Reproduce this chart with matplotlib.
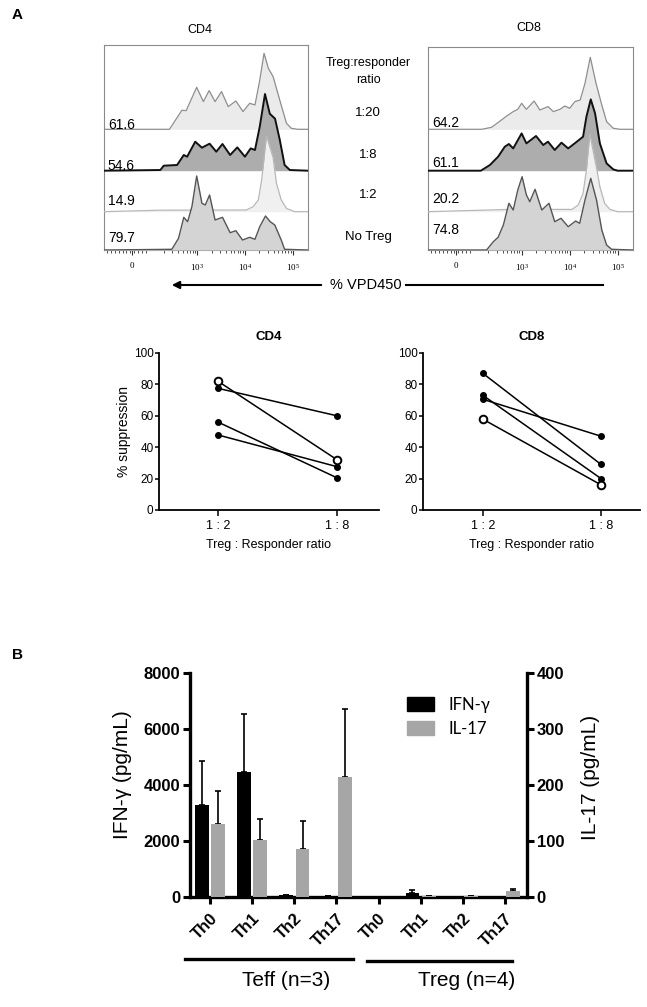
import numpy as np
import matplotlib
matplotlib.use("Agg")
import matplotlib.pyplot as plt
from matplotlib.lines import Line2D
from matplotlib.patches import Patch

plt.rcParams['font.family'] = ['Liberation Sans', 'DejaVu Sans']

# ---- panel A, flow histograms (x = log10 of VPD450 intensity, y = counts) ----
ratio_rows = ["1:20", "1:8", "1:2", "No Treg"]

cd4_pct = ["61.6", "54.6", "14.9", "79.7"]
cd4_r20_x = [2.42, 2.68, 2.77, 2.99, 3.13, 3.25, 3.375, 3.51, 3.65, 3.81, 3.96, 4.10, 4.21, 4.31, 4.40, 4.49, 4.59, 4.73, 4.87, 4.97, 5.10]
cd4_r20_y = [0, 19, 18.7, 42, 27.7, 38.7, 27.7, 37.7, 22.7, 28.3, 17.7, 26, 24.3, 49, 76, 61, 52.7, 29, 6, 1, 0]
cd4_r8_x = [2.23, 2.30, 2.58, 2.72, 2.79, 2.96, 3.10, 3.26, 3.40, 3.53, 3.69, 3.84, 4.0, 4.12, 4.21, 4.31, 4.42, 4.52, 4.63, 4.73, 4.83, 4.94]
cd4_r8_y = [0.7, 5, 5.7, 15.7, 14, 29, 23, 27, 19, 26.7, 15.7, 23.3, 14, 22.3, 20.7, 44, 76.7, 57, 52, 30.7, 5.7, 0.7]
cd4_r2_x = [2.23, 4.03, 4.17, 4.28, 4.35, 4.45, 4.59, 4.66, 4.76, 4.87, 5.04]
cd4_r2_y = [1.5, 1.7, 5, 11.7, 31.7, 76, 54, 28.3, 11.7, 3.3, 0]
cd4_none_x = [2.47, 2.61, 2.72, 2.80, 2.89, 2.99, 3.10, 3.17, 3.26, 3.375, 3.53, 3.69, 3.81, 3.95, 4.10, 4.21, 4.31, 4.43, 4.53, 4.625, 4.76, 4.83]
cd4_none_y = [0.7, 11.7, 32.7, 28.3, 43.3, 74, 46.7, 45, 55, 30, 32.7, 17.3, 19.3, 10, 12.7, 10.7, 23.3, 34, 28.3, 25, 10, 0.7]

cd8_pct = ["64.2", "61.1", "20.2", "74.8"]
cd8_r20_x = [2.17, 2.375, 2.58, 2.69, 2.825, 2.92, 3.0, 3.10, 3.26, 3.38, 3.55, 3.66, 3.80, 3.90, 4.0, 4.11, 4.22, 4.32, 4.43, 4.55, 4.67, 4.77, 4.91, 5.05]
cd8_r20_y = [0, 2, 9.3, 13.3, 17.7, 20, 26, 20, 28.3, 19.3, 22.7, 17.7, 20, 23.3, 21, 27.7, 29.3, 46, 72, 46, 24.3, 7.7, 1, 0]
cd8_r8_x = [2.15, 2.34, 2.51, 2.65, 2.735, 2.825, 3.0, 3.10, 3.30, 3.45, 3.55, 3.69, 3.83, 3.97, 4.15, 4.28, 4.35, 4.44, 4.53, 4.63, 4.77, 4.91, 5.0]
cd8_r8_y = [0, 5.7, 14, 24, 26.7, 22.3, 37.3, 27.3, 34.7, 25.7, 29, 20.7, 28, 22.3, 29, 34, 54, 71.3, 57.3, 27.3, 7.3, 1.3, 0]
cd8_r2_x = [2.76, 4.05, 4.18, 4.28, 4.35, 4.42, 4.56, 4.63, 4.73, 4.84, 5.0]
cd8_r2_y = [2.3, 2.3, 6.7, 18.3, 41.7, 77.7, 44, 25, 8.3, 2.3, 0]
cd8_none_x = [2.27, 2.41, 2.51, 2.62, 2.735, 2.825, 2.92, 3.01, 3.10, 3.17, 3.28, 3.42, 3.57, 3.69, 3.82, 3.97, 4.125, 4.21, 4.32, 4.44, 4.56, 4.67, 4.77, 4.875]
cd8_none_y = [0, 8.3, 12.7, 25, 46.7, 40, 60, 73.3, 55, 48.3, 60.7, 40, 46.7, 28.3, 31.7, 23.3, 29, 26.7, 50, 71.7, 50, 20, 5, 0.7]

# ---- panel A, % suppression ----
pair_cats = ["1 : 2", "1 : 8"]
cd4_at_1_2 = [82, 77.5, 56, 47.8]
cd4_at_1_8 = [32, 60, 20.5, 27.6]
cd4_open = [True, False, False, False]
cd8_at_1_2 = [87, 73, 70.5, 57.8]
cd8_at_1_8 = [29, 20, 47, 16]
cd8_open = [False, False, False, True]

# ---- panel B, cytokines ----
b_groups = ["Th0", "Th1", "Th2", "Th17", "Th0", "Th1", "Th2", "Th17"]
ifn_mean = [3280, 4450, 60, 30, 15, 155, 10, 5]
ifn_err = [1570, 2070, 0, 0, 0, 110, 0, 0]
il17_mean = [131, 101, 86, 215, 0.5, 1, 1.5, 10]
il17_err = [58, 38, 49, 121, 0, 0, 1, 5]

W, H = 647, 1007
fig = plt.figure(figsize=(W / 100, H / 100), dpi=100)


def box(l, t, r, b):
    return [l / W, 1 - b / H, (r - l) / W, (b - t) / H]


def ftext(x, y, s, **kw):
    fig.text(x / W, 1 - y / H, s, **kw)


# ---------------- histograms ----------------
hist_lo, hist_hi = 1.05, 5.32
row_fill = ["#ebebeb", "#adadad", "#f0f0f0", "#d4d4d4"]
row_line = ["#8e8e8e", "#111111", "#b8b8b8", "#555555"]
row_lw = [0.9, 1.4, 0.9, 1.0]
minor = list(np.linspace(1.12, 1.92, 11)) + [np.log10(k * 10 ** d) for d in (2, 3, 4) for k in range(2, 10)]


def draw_hist(ax, curves, offsets, top, pct, pct_y):
    for i, ((xs, ys), off) in enumerate(zip(curves, offsets)):
        x = np.r_[hist_lo, xs, hist_hi]
        y = np.r_[0, ys, 0] + off
        ax.fill_between(x, off, y, color=row_fill[i], lw=0, zorder=2 + 2 * i)
        ax.plot(x, y, color=row_line[i], lw=row_lw[i], zorder=3 + 2 * i)
        ax.text(hist_lo + 0.08, pct_y[i], pct[i], fontsize=10, va="center", ha="left", zorder=20)
    ax.set_xlim(hist_lo, hist_hi)
    ax.set_ylim(0, top)
    ax.set_yticks([])
    ax.set_xticks([1.63, 3, 4, 5])
    ax.set_xticklabels(["0", r"$\mathregular{10^3}$", r"$\mathregular{10^4}$", r"$\mathregular{10^5}$"],
                       fontsize=6.5, family="Liberation Serif")
    ax.set_xticks(minor, minor=True)
    ax.tick_params(axis="x", which="major", direction="out", length=3.5, width=0.8, pad=5, color="#333")
    ax.tick_params(axis="x", which="minor", direction="out", length=2, width=0.6, color="#333")
    for s in ax.spines.values():
        s.set_color("#8a8a8a")
        s.set_linewidth(0.8)


ax4 = fig.add_axes(box(104, 45, 308, 250))
draw_hist(ax4, [(cd4_r20_x, cd4_r20_y), (cd4_r8_x, cd4_r8_y), (cd4_r2_x, cd4_r2_y), (cd4_none_x, cd4_none_y)],
          [120.7, 79.3, 38.3, 0], 205, cd4_pct, [125, 84, 49, 12])
ax8 = fig.add_axes(box(428, 47, 633, 250))
draw_hist(ax8, [(cd8_r20_x, cd8_r20_y), (cd8_r8_x, cd8_r8_y), (cd8_r2_x, cd8_r2_y), (cd8_none_x, cd8_none_y)],
          [120.7, 79.3, 38.3, 0], 203, cd8_pct, [127, 87, 51, 20])

ftext(200, 30, "CD4", fontsize=9, ha="center", va="center")
ftext(529, 28, "CD8", fontsize=9, ha="center", va="center")
ftext(368, 63, "Treg:responder", fontsize=9, ha="center", va="center")
ftext(368, 80, "ratio", fontsize=9, ha="center", va="center")
for lab, yy in zip(ratio_rows, [113, 155, 195, 237]):
    ftext(368, yy, lab, fontsize=9.5, ha="center", va="center")

fig.add_artist(matplotlib.patches.FancyArrowPatch((324 / W, 1 - 285 / H), (169 / W, 1 - 285 / H),
                                                  transform=fig.transFigure, arrowstyle="-|>",
                                                  mutation_scale=11, lw=1.5, color="black"))
fig.add_artist(Line2D([406 / W, 603 / W], [1 - 285 / H] * 2, color="black", lw=1.5))
ftext(366, 285, "% VPD450", fontsize=10.5, ha="center", va="center")


# ---------------- suppression plots ----------------
def draw_pairs(ax, a, b, opened, xlim, title, ylabel):
    for v1, v2, op in zip(a, b, opened):
        ax.plot([0, 1], [v1, v2], color="black", lw=1.1, zorder=2)
        if op:
            ax.plot([0, 1], [v1, v2], "o", ms=5.5, mfc="white", mec="black", mew=1.4, lw=0, zorder=4)
        else:
            ax.plot([0, 1], [v1, v2], "o", ms=4, color="black", lw=0, zorder=3)
    ax.set_xlim(*xlim)
    ax.set_ylim(0, 100)
    ax.set_xticks([0, 1])
    ax.set_xticklabels(pair_cats, fontsize=9)
    ax.set_yticks([0, 20, 40, 60, 80, 100])
    ax.tick_params(axis="y", labelsize=8.5, length=3, width=1.1, pad=1)
    ax.tick_params(axis="x", length=4, width=1.1, pad=3)
    for s in ("top", "right"):
        ax.spines[s].set_visible(False)
    for s in ("left", "bottom"):
        ax.spines[s].set_linewidth(1.3)
    ax.set_xlabel("Treg : Responder ratio", fontsize=9, labelpad=5)
    if ylabel:
        ax.set_ylabel("% suppression", fontsize=10, labelpad=2)
    ax.set_title(title, fontsize=9.5, fontweight="bold", pad=9)


axp4 = fig.add_axes(box(159, 353, 379, 510))
draw_pairs(axp4, cd4_at_1_2, cd4_at_1_8, cd4_open, (-0.496, 1.353), "CD4", True)
axp8 = fig.add_axes(box(423, 353, 640, 510))
draw_pairs(axp8, cd8_at_1_2, cd8_at_1_8, cd8_open, (-0.508, 1.33), "CD8", False)

# ---------------- panel B ----------------
xb = np.arange(len(b_groups))
axb = fig.add_axes(box(190, 673, 527, 897))
axb.bar(xb - 0.195, ifn_mean, 0.33, color="black", zorder=3)
axb.errorbar(xb - 0.195, ifn_mean, yerr=[np.zeros(len(xb)), ifn_err], fmt="none", ecolor="black",
             elinewidth=1.2, capsize=2.5, capthick=1.2, zorder=2)
axb.set_xlim(-0.476, 7.524)
axb.set_ylim(0, 8000)
axb.set_yticks([0, 2000, 4000, 6000, 8000])
axb.set_yticklabels(["0", "2000", "4000", "6000", "8000"], fontweight="bold", fontsize=12)
axb.set_xticks(xb)
axb.set_xticklabels(b_groups, rotation=45, ha="right", rotation_mode="anchor", fontweight="bold", fontsize=12)
axb.tick_params(axis="both", direction="out", length=5, width=2.2, pad=2)
axb.tick_params(axis="x", pad=5)
axb.spines["top"].set_visible(False)
axb.spines["right"].set_visible(False)
for s in ("left", "bottom"):
    axb.spines[s].set_linewidth(2.4)
axb.patch.set_visible(False)

axr = axb.twinx()
axr.bar(xb + 0.195, il17_mean, 0.33, color="#a6a6a6", zorder=3)
axr.errorbar(xb + 0.195, il17_mean, yerr=[np.zeros(len(xb)), il17_err], fmt="none", ecolor="black",
             elinewidth=1.2, capsize=2.5, capthick=1.2, zorder=2)
axr.set_ylim(0, 400)
axr.set_yticks([0, 100, 200, 300, 400])
axr.set_yticklabels(["0", "100", "200", "300", "400"], fontweight="bold", fontsize=12)
axr.tick_params(axis="y", direction="out", length=5, width=2.2, pad=2)
for s in ("top", "left", "bottom"):
    axr.spines[s].set_visible(False)
axr.spines["right"].set_linewidth(2.4)

ftext(122, 775, "IFN-γ (pg/mL)", fontsize=15, rotation=90, ha="center", va="center")
ftext(590, 777, "IL-17 (pg/mL)", fontsize=15, rotation=90, ha="center", va="center")

fig.legend(handles=[Patch(color="black", label="IFN-γ"), Patch(color="#a6a6a6", label="IL-17")],
           loc="upper left", bbox_to_anchor=(407 / W, 1 - 697 / H), frameon=False,
           prop={"family": ["Lato", "Open Sans", "DejaVu Sans"], "size": 12},
           handlelength=1.6, handleheight=0.9, handletextpad=0.9, labelspacing=0.45, borderpad=0,
           borderaxespad=0)

fig.add_artist(Line2D([185 / W, 353 / W], [1 - 959 / H] * 2, color="black", lw=2.4))
fig.add_artist(Line2D([367 / W, 512 / W], [1 - 961 / H] * 2, color="black", lw=2.4))
ftext(286, 980, "Teff (n=3)", fontsize=15, ha="center", va="center")
ftext(467, 980, "Treg (n=4)", fontsize=15, ha="center", va="center")

ftext(12, 15, "A", fontsize=11, fontweight="bold", ha="left", va="center")
ftext(12, 655, "B", fontsize=11, fontweight="bold", ha="left", va="center")

fig.savefig("out.png", dpi=100)
